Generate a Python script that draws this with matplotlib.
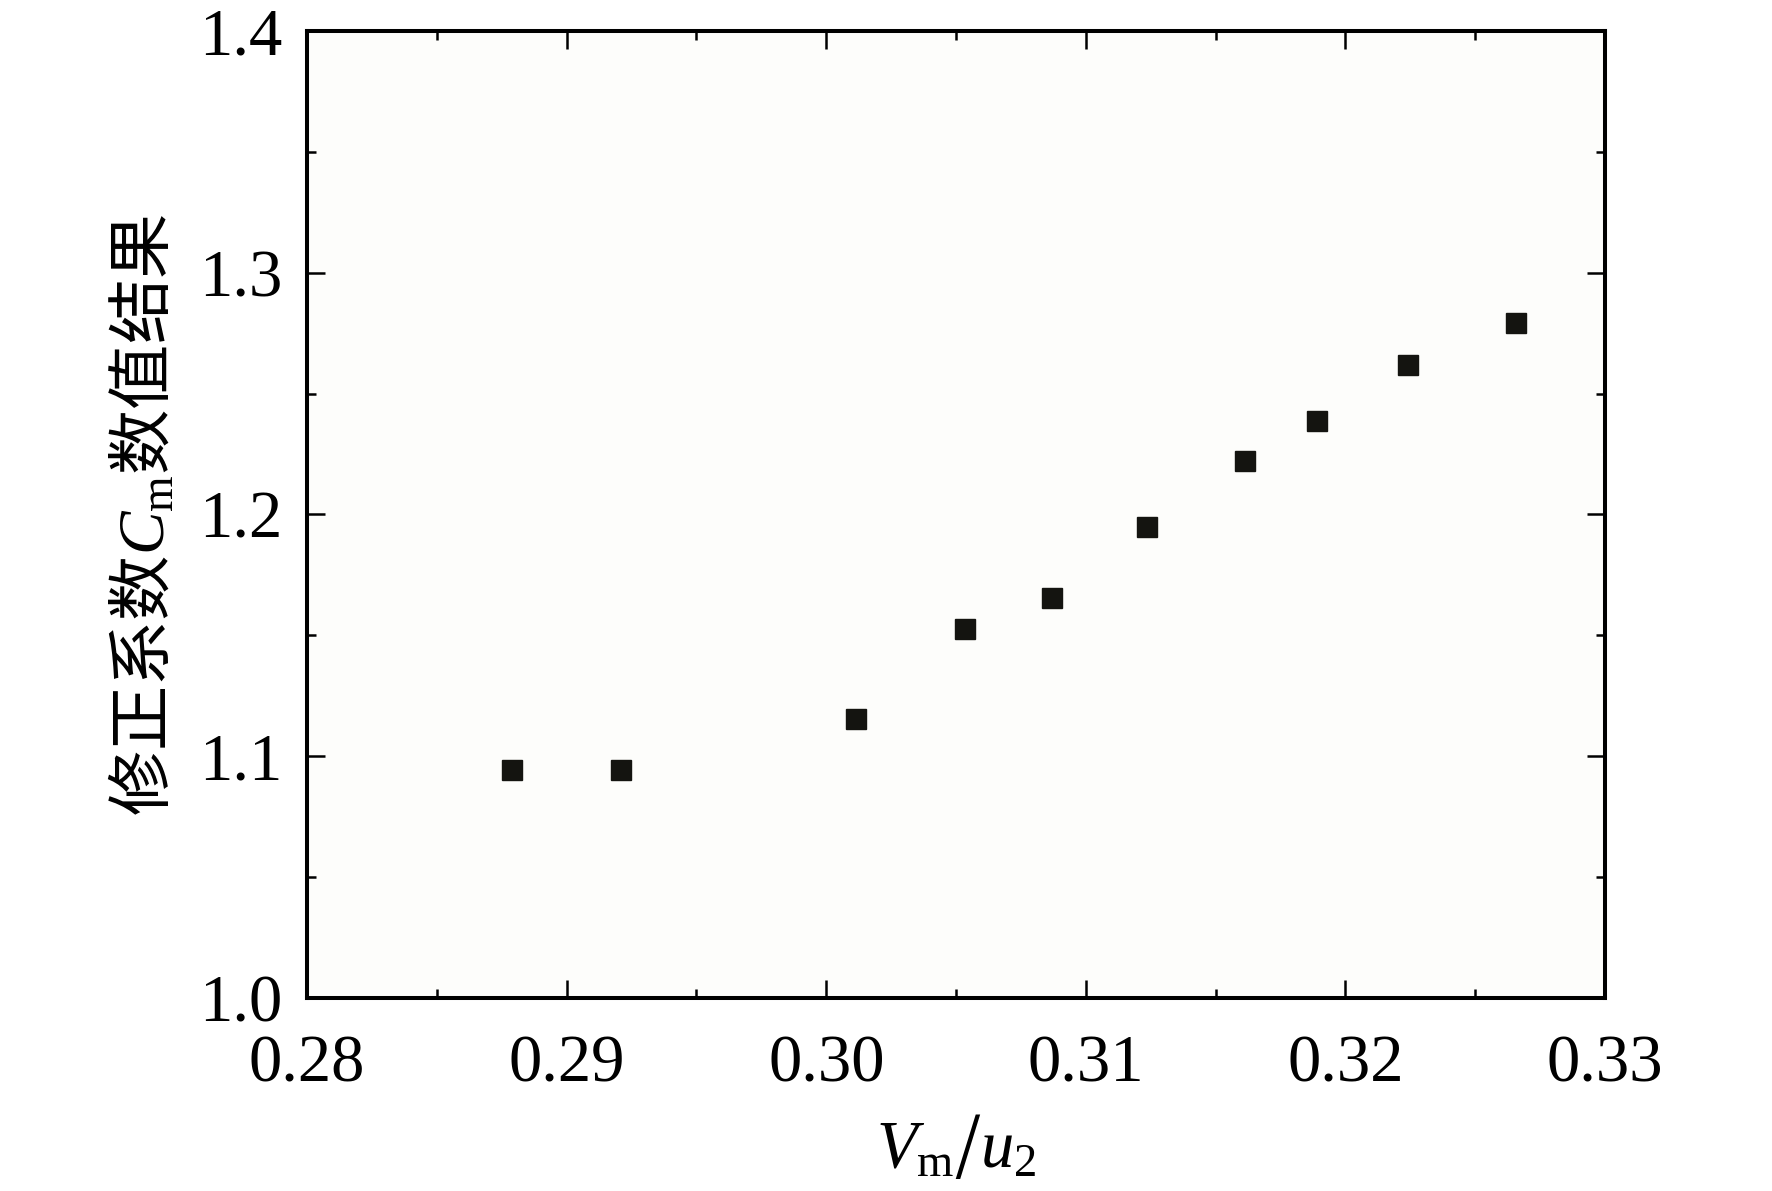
import numpy as np
import matplotlib
matplotlib.use('Agg')
import matplotlib.pyplot as plt
from matplotlib.ticker import MultipleLocator

plt.rcParams['font.family'] = ['Liberation Serif', 'Noto Sans CJK SC']
plt.rcParams['mathtext.fontset'] = 'custom'
plt.rcParams['mathtext.rm'] = 'Noto Sans CJK SC'
plt.rcParams['mathtext.it'] = 'Liberation Serif:italic'
plt.rcParams['mathtext.sf'] = 'Liberation Serif'

# data
vm_u2 = [0.2879, 0.2921, 0.30115, 0.30535, 0.3087, 0.31236, 0.31613, 0.3189, 0.32242, 0.32657]
cm = [1.0942, 1.0942, 1.1154, 1.1525, 1.1656, 1.1947, 1.2221, 1.2387, 1.2618, 1.2792]

fig = plt.figure(figsize=(17.72, 11.91), dpi=100)
ax = fig.add_axes([0.1733, 0.1621, 0.7325, 0.8119])
ax.set_facecolor('#fdfdfb')

ax.plot(vm_u2, cm, linestyle='none', marker='s', markersize=14,
        color='#141410')

ax.set_xlim(0.28, 0.33)
ax.set_ylim(1.0, 1.4)
ax.xaxis.set_major_locator(MultipleLocator(0.01))
ax.xaxis.set_minor_locator(MultipleLocator(0.005))
ax.yaxis.set_major_locator(MultipleLocator(0.1))
ax.yaxis.set_minor_locator(MultipleLocator(0.05))
ax.xaxis.set_major_formatter(plt.FormatStrFormatter('%.2f'))
ax.yaxis.set_major_formatter(plt.FormatStrFormatter('%.1f'))

for s in ax.spines.values():
    s.set_linewidth(2.9)

ax.tick_params(which='both', direction='in', top=True, right=True, width=1.8)
ax.tick_params(which='major', length=13)
ax.tick_params(which='minor', length=6.5)
ax.tick_params(axis='y', which='major', pad=18, labelsize=48)
ax.tick_params(axis='x', which='major', pad=26, labelsize=48)

ax.set_xlabel(r'$V_{\mathsf{m}}/u_{\mathsf{2}}$', fontsize=48, labelpad=12)
ax.set_ylabel(r'$\mathrm{修正系数}C_{\mathsf{m}}\mathrm{数值结果}$', fontsize=47, labelpad=15)

fig.savefig('out.png', dpi=100)
